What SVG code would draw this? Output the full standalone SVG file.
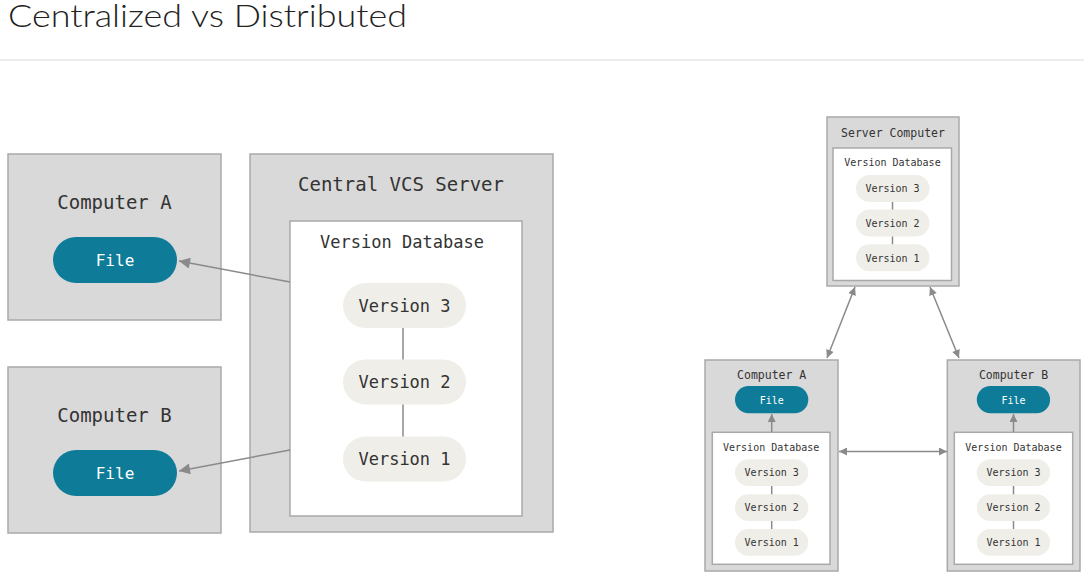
<svg xmlns="http://www.w3.org/2000/svg" width="1084" height="579" viewBox="0 0 1084 579">
<style>
.title{font-family:Lato,"Open Sans","Liberation Sans",sans-serif;font-weight:300;font-size:32px;fill:#222}
.box{fill:#d9d9d9;stroke:#a9a9a9;stroke-width:1.5}
.db{fill:#fff;stroke:#a9a9a9;stroke-width:1.5}
.file{fill:#0e7c99}
.ver{fill:#efeee8}
.t{font-family:"DejaVu Sans Mono","Liberation Mono",monospace;fill:#333;text-anchor:middle}
.tw{font-family:"DejaVu Sans Mono","Liberation Mono",monospace;fill:#fff;text-anchor:middle}
.link{stroke:#8a8a8a;stroke-width:1.5;fill:none}
.arr{stroke:#8a8a8a;stroke-width:1.5;fill:none}
</style>
<defs>
<marker id="ah" viewBox="0 0 10 10" refX="10" refY="5" markerWidth="10" markerHeight="8" markerUnits="userSpaceOnUse" orient="auto-start-reverse">
<path d="M0,0 L10,5 L0,10 z" fill="#8a8a8a"/>
</marker>
<marker id="ahL" viewBox="0 0 10 10" refX="10" refY="5" markerWidth="15" markerHeight="11" markerUnits="userSpaceOnUse" orient="auto-start-reverse">
<path d="M0,0 L10,5 L0,10 z" fill="#8a8a8a"/>
</marker>
</defs>
<rect x="0" y="0" width="1084" height="579" fill="#fff"/>
<text class="title" x="8" y="27" textLength="399" lengthAdjust="spacingAndGlyphs">Centralized vs Distributed</text>
<rect x="0" y="59" width="1084" height="2" fill="#ededed"/>

<g id="left-computer-a">
<rect class="box" x="8" y="154" width="213" height="166"/>
<text class="t" x="114.5" y="209" font-size="19">Computer A</text>
<rect class="file" x="53" y="237" width="124" height="46" rx="23"/>
<text class="tw" x="115" y="266" font-size="16">File</text>
</g>

<g id="left-computer-b">
<rect class="box" x="8" y="367" width="213" height="166"/>
<text class="t" x="114.5" y="422" font-size="19">Computer B</text>
<rect class="file" x="53" y="450" width="124" height="46" rx="23"/>
<text class="tw" x="115" y="479" font-size="16">File</text>
</g>

<g id="central-vcs-server">
<rect class="box" x="250" y="154" width="303" height="378"/>
<text class="t" x="401" y="191" font-size="19">Central VCS Server</text>
<rect class="db" x="290" y="221" width="232" height="295"/>
<text class="t" x="402" y="248" font-size="17">Version Database</text>
</g>

<g id="c-version-3">
<rect class="ver" x="343" y="283" width="123" height="45" rx="22.5"/>
<text class="t" x="404.5" y="311.5" font-size="17">Version 3</text>
</g>
<g id="c-version-2">
<rect class="ver" x="343" y="359.5" width="123" height="45" rx="22.5"/>
<text class="t" x="404.5" y="388" font-size="17">Version 2</text>
</g>
<g id="c-version-1">
<rect class="ver" x="343" y="436.5" width="123" height="45" rx="22.5"/>
<text class="t" x="404.5" y="465" font-size="17">Version 1</text>
</g>

<g id="server-computer">
<rect class="box" x="827" y="117" width="132" height="169"/>
<text class="t" x="893" y="137" font-size="11.5">Server Computer</text>
<rect class="db" x="833" y="148" width="118.5" height="132.5"/>
<text class="t" x="892.5" y="166" font-size="10">Version Database</text>
<rect class="ver" x="856" y="175" width="73.5" height="27" rx="13.5"/>
<text class="t" x="892.5" y="192.2" font-size="10">Version 3</text>
<rect class="ver" x="856" y="209.5" width="73.5" height="27" rx="13.5"/>
<text class="t" x="892.5" y="226.7" font-size="10">Version 2</text>
<rect class="ver" x="856" y="244.3" width="73.5" height="27" rx="13.5"/>
<text class="t" x="892.5" y="261.5" font-size="10">Version 1</text>
</g>

<g id="dist-computer-a">
<rect class="box" x="705" y="360" width="133" height="211"/>
<text class="t" x="771.7" y="378.5" font-size="11.5">Computer A</text>
<rect class="file" x="735" y="386" width="73.3" height="27.3" rx="13.6"/>
<text class="tw" x="771.7" y="403.5" font-size="10">File</text>
<rect class="db" x="712.3" y="432.3" width="117.7" height="132"/>
<text class="t" x="771.2" y="450.5" font-size="10">Version Database</text>
<rect class="ver" x="735" y="459.3" width="73.3" height="26.7" rx="13.3"/>
<text class="t" x="771.7" y="476.4" font-size="10">Version 3</text>
<rect class="ver" x="735" y="494.3" width="73.3" height="26.7" rx="13.3"/>
<text class="t" x="771.7" y="511.4" font-size="10">Version 2</text>
<rect class="ver" x="735" y="529" width="73.3" height="26.7" rx="13.3"/>
<text class="t" x="771.7" y="546.1" font-size="10">Version 1</text>
</g>

<g id="dist-computer-b">
<rect class="box" x="947.3" y="360" width="132.7" height="211"/>
<text class="t" x="1013.5" y="378.5" font-size="11.5">Computer B</text>
<rect class="file" x="976.8" y="386" width="73.3" height="27.3" rx="13.6"/>
<text class="tw" x="1013.5" y="403.5" font-size="10">File</text>
<rect class="db" x="954.3" y="432.3" width="118.4" height="132"/>
<text class="t" x="1013.5" y="450.5" font-size="10">Version Database</text>
<rect class="ver" x="976.8" y="459.3" width="73.3" height="26.7" rx="13.3"/>
<text class="t" x="1013.5" y="476.4" font-size="10">Version 3</text>
<rect class="ver" x="976.8" y="494.3" width="73.3" height="26.7" rx="13.3"/>
<text class="t" x="1013.5" y="511.4" font-size="10">Version 2</text>
<rect class="ver" x="976.8" y="529" width="73.3" height="26.7" rx="13.3"/>
<text class="t" x="1013.5" y="546.1" font-size="10">Version 1</text>
</g>

<g id="connectors">
<line class="arr" x1="290" y1="282" x2="179" y2="261" marker-end="url(#ahL)"/>
<line class="arr" x1="290" y1="450" x2="179" y2="471" marker-end="url(#ahL)"/>
<line class="link" x1="403" y1="328" x2="403" y2="359.5"/>
<line class="link" x1="403" y1="404.5" x2="403" y2="436.5"/>
<line class="link" x1="892.5" y1="202" x2="892.5" y2="209.5" stroke-width="1"/>
<line class="link" x1="892.5" y1="236.5" x2="892.5" y2="244.3" stroke-width="1"/>
<line class="link" x1="771.7" y1="486" x2="771.7" y2="494.3" stroke-width="1"/>
<line class="link" x1="771.7" y1="521" x2="771.7" y2="529" stroke-width="1"/>
<line class="link" x1="1013.5" y1="486" x2="1013.5" y2="494.3" stroke-width="1"/>
<line class="link" x1="1013.5" y1="521" x2="1013.5" y2="529" stroke-width="1"/>
<line class="arr" x1="855" y1="287" x2="827" y2="358" marker-start="url(#ah)" marker-end="url(#ah)"/>
<line class="arr" x1="930" y1="287" x2="959" y2="358" marker-start="url(#ah)" marker-end="url(#ah)"/>
<line class="arr" x1="839" y1="451.5" x2="947" y2="451.5" marker-start="url(#ah)" marker-end="url(#ah)"/>
<line class="arr" x1="771.7" y1="432" x2="771.7" y2="414" marker-end="url(#ah)"/>
<line class="arr" x1="1013.5" y1="432" x2="1013.5" y2="414" marker-end="url(#ah)"/>
</g>
</svg>
